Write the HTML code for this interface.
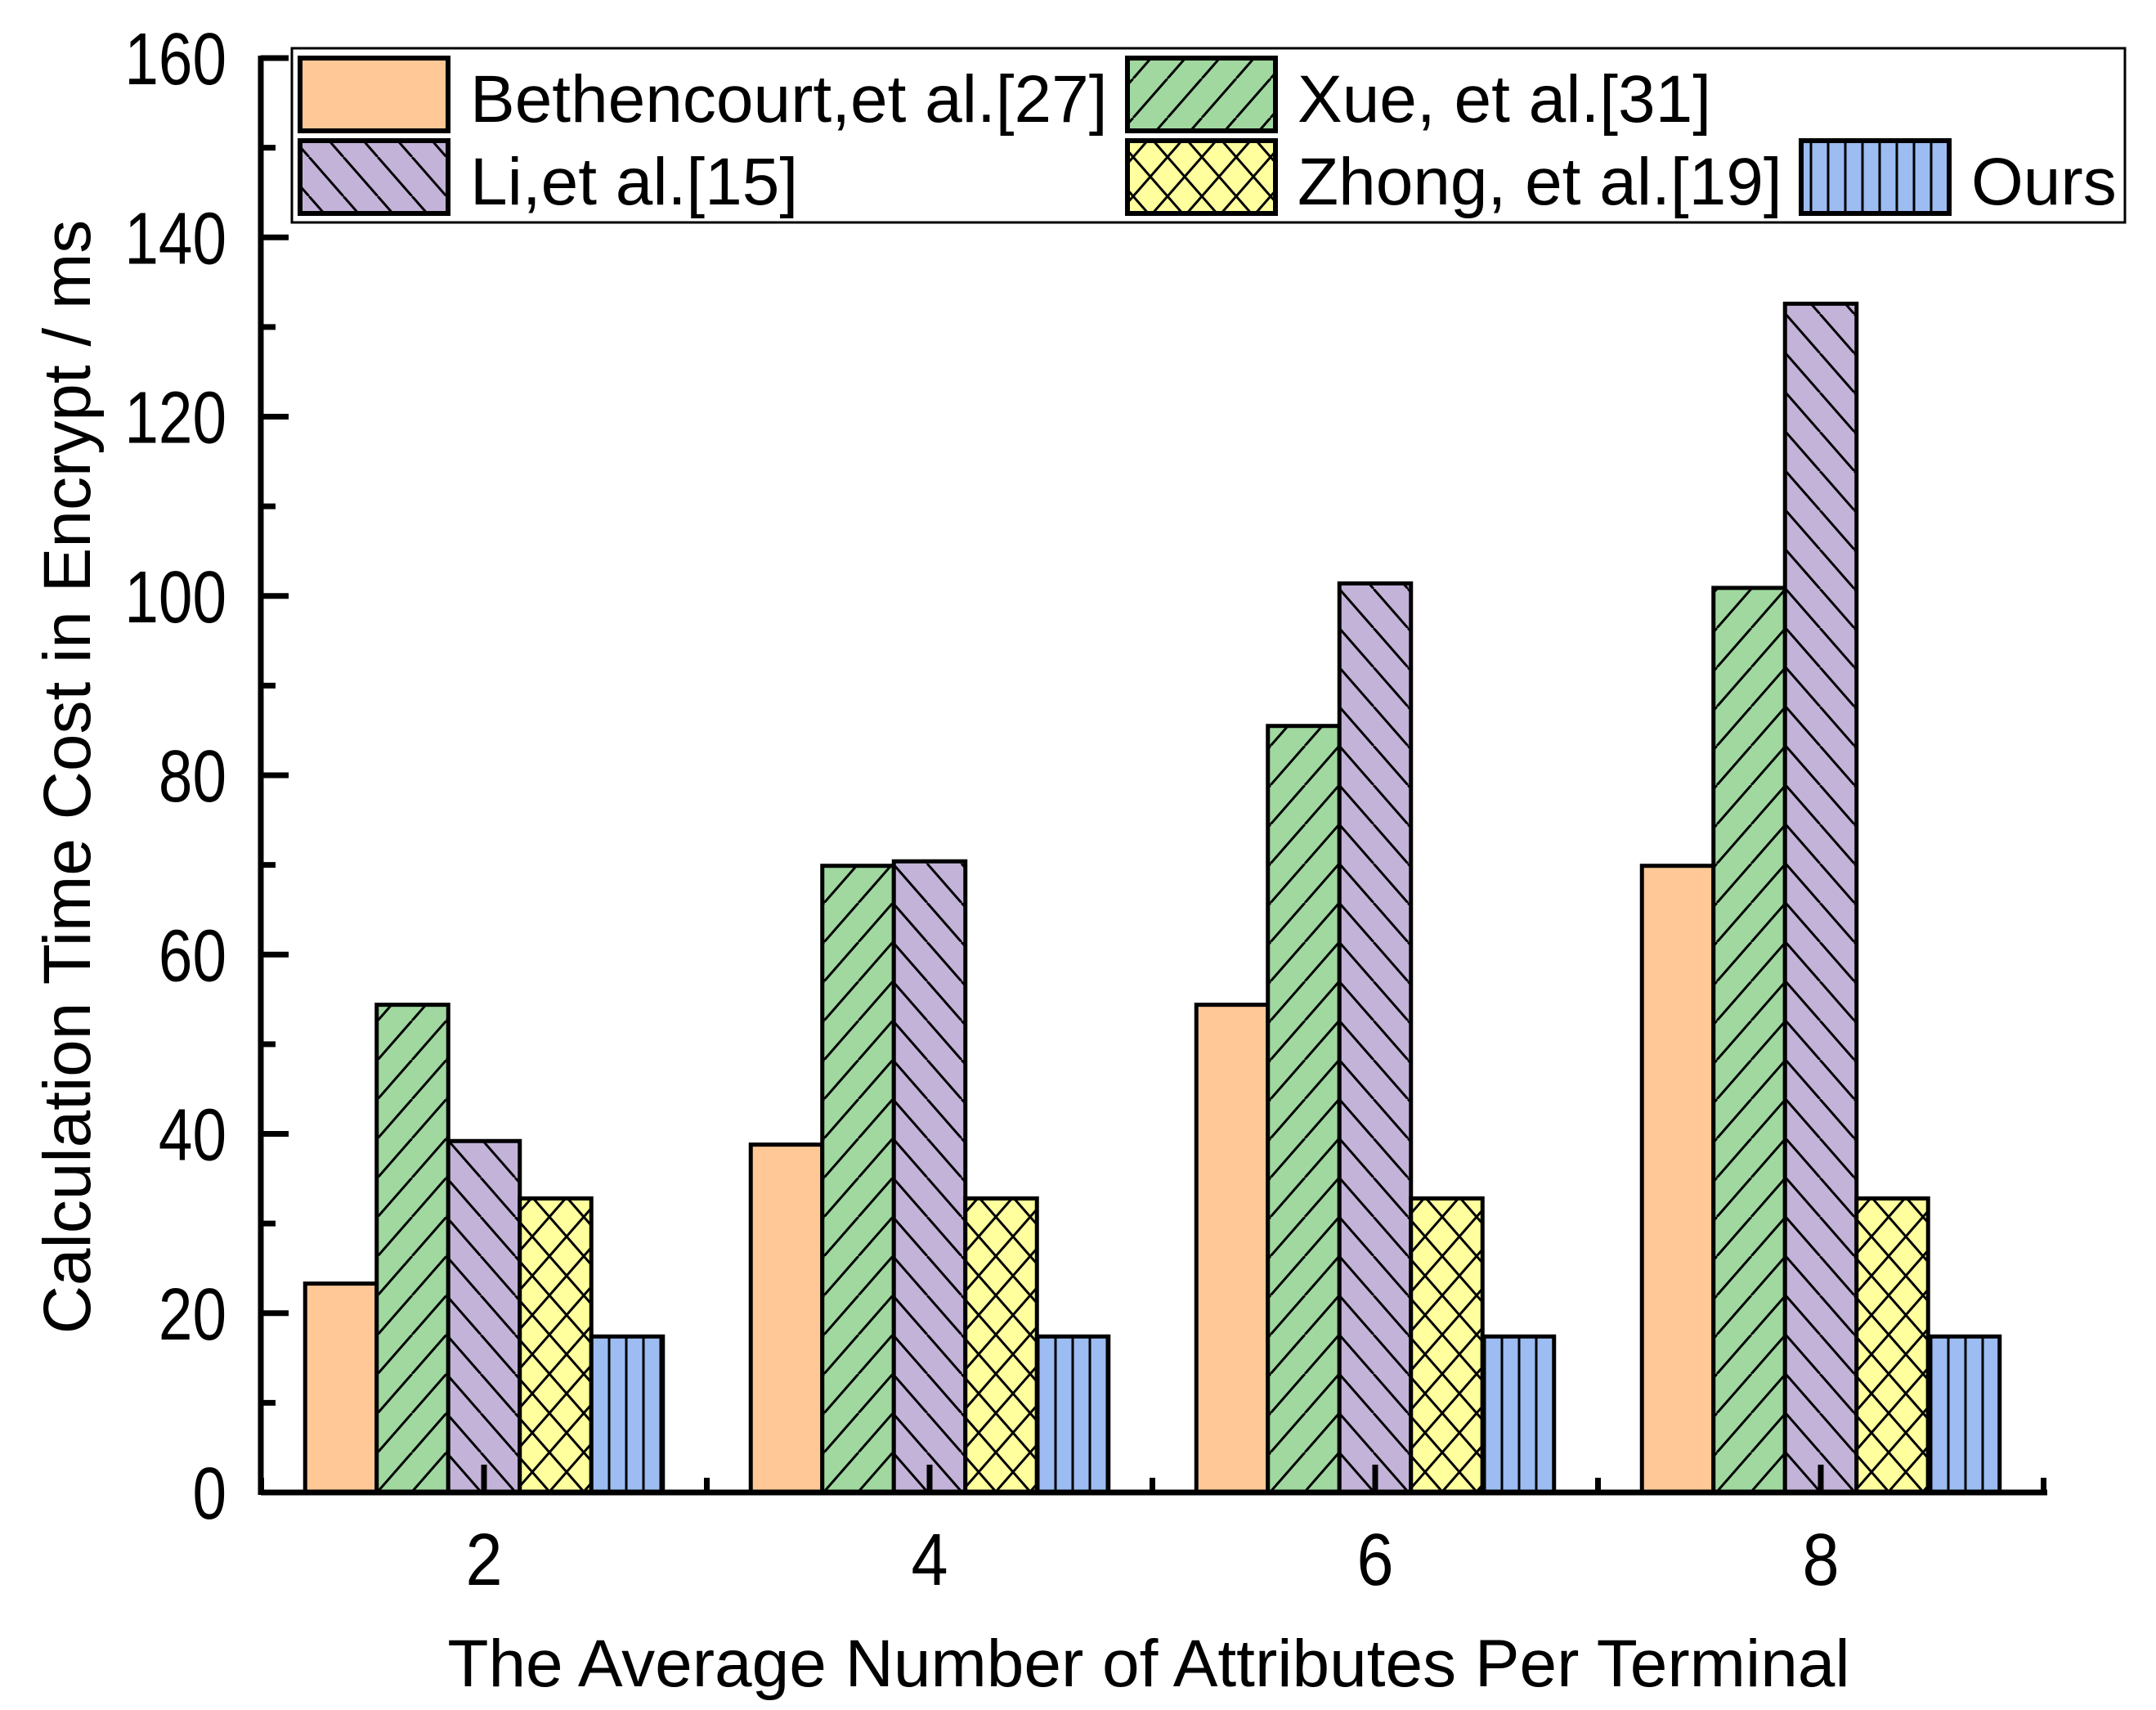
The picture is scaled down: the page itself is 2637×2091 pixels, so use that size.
<!DOCTYPE html>
<html><head><meta charset="utf-8"><style>
html,body{margin:0;padding:0;background:#fff;}
svg{display:block;font-family:"Liberation Sans",Arial,sans-serif;}
</style></head><body>
<svg id="chart" width="2637" height="2091" viewBox="0 0 2637 2091" xmlns="http://www.w3.org/2000/svg">
<defs>
<pattern id="p1" patternUnits="userSpaceOnUse" width="40" height="48"><rect width="40" height="48" fill="#FFC896"/></pattern>
<pattern id="p2" patternUnits="userSpaceOnUse" width="42" height="48"><rect width="42" height="48" fill="#A0D8A0"/><path d="M-42,48 L0,0 M0,48 L42,0 M42,48 L84,0" stroke="#000" stroke-width="3"/></pattern>
<pattern id="p3" patternUnits="userSpaceOnUse" width="42" height="48"><rect width="42" height="48" fill="#C3B3D8"/><path d="M-42,0 L0,48 M0,0 L42,48 M42,0 L84,48" stroke="#000" stroke-width="3"/></pattern>
<pattern id="p4" patternUnits="userSpaceOnUse" width="42" height="48"><rect width="42" height="48" fill="#FFFF9E"/><path d="M-42,48 L0,0 M0,48 L42,0 M42,48 L84,0 M-42,0 L0,48 M0,0 L42,48 M42,0 L84,48" stroke="#000" stroke-width="3"/></pattern>
<pattern id="p5" patternUnits="userSpaceOnUse" width="21" height="40"><rect width="21" height="40" fill="#9CBCF2"/><path d="M10,0 L10,40" stroke="#000" stroke-width="3"/></pattern>
</defs>
<g id="bars"></g>
<g id="axes"></g>
<g id="legend"></g>
</svg>
<script>
const categories = ["2","4","6","8"];
const catValues = [2,4,6,8];
const seriesNames = ["Bethencourt,et al.[27]","Xue, et al.[31]","Li,et al.[15]","Zhong, et al.[19]","Ours"];
const sBethencourt = [23.3,38.8,54.4,69.9];
const sXue = [54.4,69.9,85.5,100.9];
const sLi = [39.2,70.4,101.4,132.6];
const sZhong = [32.8,32.8,32.8,32.8];
const sOurs = [17.4,17.4,17.4,17.4];
const yTicks = [0,20,40,60,80,100,120,140,160];

const NS="http://www.w3.org/2000/svg";
const series=[sBethencourt,sXue,sLi,sZhong,sOurs];
const fills=["url(#p1)","url(#p2)","url(#p3)","url(#p4)","url(#p5)"];
const L=319,R=2501,Y0=1825,Y1=71;
const xs=v=>592+(v-2)*272.5;
const ys=v=>Y0-(v/160)*(Y0-Y1);
const bw=87.5;
function mk(tag,attrs,parent){const e=document.createElementNS(NS,tag);for(const k in attrs)e.setAttribute(k,attrs[k]);parent.appendChild(e);return e;}
const gb=document.getElementById('bars'),ga=document.getElementById('axes'),gl=document.getElementById('legend');
series.forEach((s,si)=>{s.forEach((v,ci)=>{
  const cx=xs(catValues[ci]);const x=cx-2.5*bw+si*bw;
  const r=mk('rect',{x:x,y:ys(v),width:bw,height:Y0-ys(v),fill:fills[si],stroke:'#000','stroke-width':5},gb);
  
  
});});
let a=mk('line',{x1:L,y1:Y0,x2:R+3,y2:Y0,stroke:'#000','stroke-width':7},ga);

a=mk('line',{x1:L,y1:Y0+3,x2:L,y2:Y1-3,stroke:'#000','stroke-width':7},ga);

yTicks.forEach(t=>{
  mk('line',{x1:L,y1:ys(t),x2:L+34,y2:ys(t),stroke:'#000','stroke-width':7},ga);
  if(t<160) mk('line',{x1:L,y1:ys(t+10),x2:L+18,y2:ys(t+10),stroke:'#000','stroke-width':7},ga);
  const tx=mk('text',{x:0,y:0,'text-anchor':'end','font-size':90,transform:'translate('+(L-42)+','+(ys(t)+32)+') scale(0.83,1)'},ga);tx.textContent=t;
  
});
[1,2,3,4,5,6,7,8,9].forEach(v=>{
  const major=v%2===0;
  mk('line',{x1:xs(v),y1:Y0,x2:xs(v),y2:Y0-(major?34:18),stroke:'#000','stroke-width':7},ga);
});
categories.forEach((c,i)=>{
  const tx=mk('text',{x:0,y:0,'text-anchor':'middle','font-size':90,transform:'translate('+xs(catValues[i])+',1938) scale(0.9,1)'},ga);tx.textContent=c;
  
});
let t=mk('text',{x:1405,y:2062,'text-anchor':'middle','font-size':82},ga);t.textContent='The Average Number of Attributes Per Terminal';

t=mk('text',{x:0,y:0,'text-anchor':'middle','font-size':82,transform:'translate(110,950) rotate(-90)'},ga);t.textContent='Calculation Time Cost in Encrypt / ms';

let lb=mk('rect',{x:357,y:59,width:2242,height:213,fill:'#fff',stroke:'#000','stroke-width':3},gl);

const pos=[[367,71],[1379,71],[367,172],[1379,172],[2203,172]];
series.forEach((s,i)=>{
  const [x,y]=pos[i];
  const sw=mk('rect',{x:x,y:y,width:181,height:89,fill:fills[i],stroke:'#000','stroke-width':6},gl);
  
  const tx=mk('text',{x:x+208,y:y+78,'font-size':82},gl);tx.textContent=seriesNames[i];
  
});
</script>
</body></html>
